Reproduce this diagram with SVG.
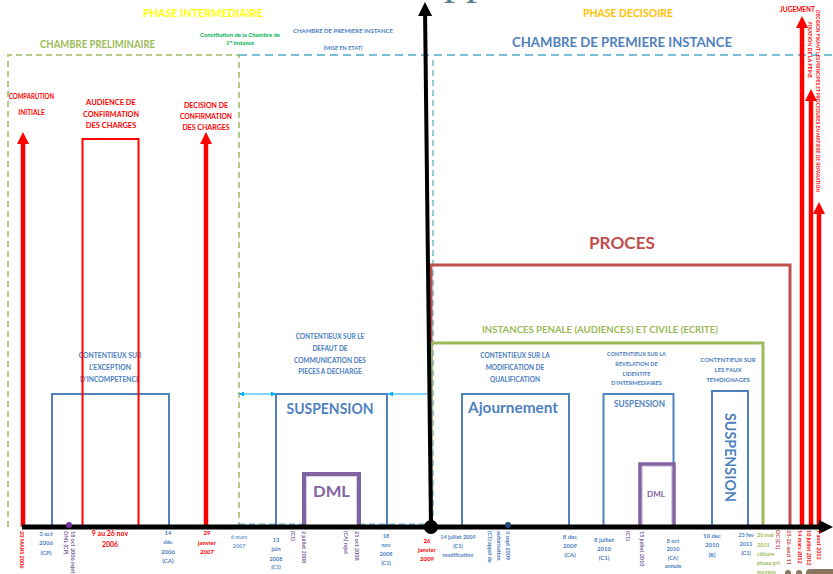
<svg xmlns="http://www.w3.org/2000/svg" width="833" height="574" viewBox="0 0 833 574">
<defs>
<style>
text{font-family:Lato,"Liberation Sans",sans-serif;font-weight:bold}
.c{text-anchor:middle}
.b{fill:#4a7ebf}
.r{fill:#ff0000}
.p{fill:#8064a2}
.g{fill:#9bbb59}
.br{fill:#c0504d}
.s5{font-size:5.5px}
.s6{font-size:6px}
.s65{font-size:6.5px}
.bbox{fill:none;stroke:#4f81bd;stroke-width:2}
.dml{fill:#fff;stroke:#8064a2;stroke-width:4}
.dmlin{fill:none;stroke:#d9cfe6;stroke-width:1}
.redarr{stroke:#ff0000;stroke-width:4.5;fill:none}
</style>
<marker id="rh" viewBox="0 0 12 12" markerUnits="userSpaceOnUse" markerWidth="12" markerHeight="12" refX="0" refY="6" orient="auto"><path d="M0,0 L12,6 L0,12 z" fill="#ff0000"/></marker>
<marker id="kh" viewBox="0 0 14 14" markerUnits="userSpaceOnUse" markerWidth="14" markerHeight="14" refX="0" refY="7" orient="auto"><path d="M0,0 L14,7 L0,14 z" fill="#000"/></marker>
<marker id="sh" viewBox="0 0 6 6" markerUnits="userSpaceOnUse" markerWidth="5" markerHeight="5" refX="6" refY="3" orient="auto-start-reverse"><path d="M0,0 L6,3 L0,6 z" fill="#00b0f0"/></marker>
</defs>
<rect width="833" height="574" fill="#fff"/>

<!-- fragment of large title at the top edge -->
<text x="444" y="-6" style="font-family:'Liberation Serif',serif;font-weight:normal;font-size:44px;fill:#5b7b8c">pp</text>

<g id="frames">
<path d="M8,527 V55 H239 V527" fill="none" stroke="#9bbb59" stroke-width="1.5" stroke-dasharray="6 4"/>
<line x1="239" y1="55" x2="833" y2="55" stroke="#4bacc6" stroke-width="1.5" stroke-dasharray="8 5"/>
<line x1="239" y1="524" x2="431" y2="524" stroke="#4bacc6" stroke-width="1.2" stroke-dasharray="6 4"/>
<line x1="433" y1="60" x2="433" y2="522" stroke="#4bacc6" stroke-width="1.2" stroke-dasharray="6 4"/>
<path d="M431,527 V265 H790 V527" fill="none" stroke="#c0504d" stroke-width="3"/>
<path d="M431,527 V343 H763 V527" fill="none" stroke="#9bbb59" stroke-width="3"/>
</g>

<g id="headers">
<text x="203" y="17" class="c" style="font-size:11.5px;fill:#ffff00" textLength="120" lengthAdjust="spacingAndGlyphs">PHASE INTERMEDIAIRE</text>
<text x="97.5" y="48" class="c g" style="font-size:10.5px" textLength="115" lengthAdjust="spacingAndGlyphs">CHAMBRE PRELIMINAIRE</text>
<text x="240" y="37" class="c s5" style="fill:#00b050" textLength="80" lengthAdjust="spacingAndGlyphs">Constitution de la Chambre de</text>
<text x="240" y="45" class="c s5" style="fill:#00b050">1<tspan dy="-2" style="font-size:3.5px">re</tspan><tspan dy="2"> instance</tspan></text>
<text x="343" y="33" class="c s5 b" textLength="100" lengthAdjust="spacingAndGlyphs">CHAMBRE DE PREMIERE INSTANCE</text>
<text x="343" y="50" class="c s5 b">(MISE EN ETAT)</text>
<text x="628" y="17" class="c" style="font-size:11.5px;fill:#ffc000" textLength="90" lengthAdjust="spacingAndGlyphs">PHASE DECISOIRE</text>
<text x="622" y="47" class="c b" style="font-size:14px;fill:#4f81bd" textLength="220" lengthAdjust="spacingAndGlyphs">CHAMBRE DE PREMIERE INSTANCE</text>
<text x="797.5" y="12" class="c r" style="font-size:7px" textLength="35" lengthAdjust="spacingAndGlyphs">JUGEMENT</text>
<text x="622" y="249" class="c br" style="font-size:17px" textLength="66" lengthAdjust="spacingAndGlyphs">PROCES</text>
<text x="600" y="333" class="c g" style="font-size:10px" textLength="236" lengthAdjust="spacingAndGlyphs">INSTANCES PENALE (AUDIENCES) ET CIVILE (ECRITE)</text>
</g>

<g id="comparution">
<text x="31.5" y="99" class="c r s65" textLength="45" lengthAdjust="spacingAndGlyphs">COMPARUTION</text>
<text x="31.5" y="115" class="c r s65">INITIALE</text>
</g>

<g id="exception">
<rect x="52" y="394" width="117" height="133" class="bbox"/>
<text x="110" y="358" class="c b" style="font-size:6.8px">CONTENTIEUX SUR</text>
<text x="110" y="370" class="c b" style="font-size:6.8px">L'EXCEPTION</text>
<text x="110" y="382" class="c b" style="font-size:6.8px">D'INCOMPETENCE</text>
</g>

<g id="audience">
<rect x="82.5" y="139" width="56" height="388" fill="none" stroke="#ff0000" stroke-width="2"/>
<text x="111" y="105" class="c r" style="font-size:7.5px">AUDIENCE DE</text>
<text x="111" y="117" class="c r" style="font-size:7.5px" textLength="56" lengthAdjust="spacingAndGlyphs">CONFIRMATION</text>
<text x="111" y="128" class="c r" style="font-size:7.5px">DES CHARGES</text>
</g>

<g id="decision">
<text x="206" y="108" class="c r" style="font-size:7px">DECISION DE</text>
<text x="206" y="119" class="c r" style="font-size:7px" textLength="52" lengthAdjust="spacingAndGlyphs">CONFIRMATION</text>
<text x="206" y="130" class="c r" style="font-size:7px">DES CHARGES</text>
</g>

<g id="suspension1">
<rect x="276" y="394" width="111" height="133" class="bbox"/>
<text x="330" y="339" class="c b s65">CONTENTIEUX SUR LE</text>
<text x="330" y="351" class="c b s65">DEFAUT DE</text>
<text x="330" y="363" class="c b s65">COMMUNICATION DES</text>
<text x="330" y="374" class="c b s65">PIECES A DECHARGE</text>
<text x="330" y="414" class="c b" style="font-size:15px;fill:#4f81bd" textLength="87" lengthAdjust="spacingAndGlyphs">SUSPENSION</text>
</g>

<g id="dml1">
<rect x="304" y="474" width="55" height="53" class="dml"/>
<rect x="306.5" y="476.5" width="50" height="50" class="dmlin"/>
<text x="331.5" y="497" class="c p" style="font-size:16px" textLength="37" lengthAdjust="spacingAndGlyphs">DML</text>
</g>

<g id="ajournement">
<rect x="462" y="394" width="107" height="133" class="bbox"/>
<text x="515" y="358" class="c b s65">CONTENTIEUX SUR LA</text>
<text x="515" y="370" class="c b s65">MODIFICATION DE</text>
<text x="515" y="382" class="c b s65">QUALIFICATION</text>
<text x="513" y="413" class="c" style="font-size:16px;fill:#4f81bd" textLength="90" lengthAdjust="spacingAndGlyphs">Ajournement</text>
</g>

<g id="suspension2">
<rect x="603.5" y="394" width="70" height="133" class="bbox"/>
<text x="636.5" y="356" class="c b s5">CONTENTIEUX SUR LA</text>
<text x="636.5" y="366" class="c b s5">REVELATION DE</text>
<text x="636.5" y="376" class="c b s5">L'IDENTITE</text>
<text x="636.5" y="385" class="c b s5">D'INTERMEDIAIRES</text>
<text x="639.5" y="407" class="c" style="font-size:9px;fill:#4f81bd" textLength="51" lengthAdjust="spacingAndGlyphs">SUSPENSION</text>
</g>

<g id="dml2">
<rect x="640" y="464" width="34" height="63" class="dml" style="stroke-width:3.5"/>
<rect x="642.5" y="466.5" width="29" height="60" class="dmlin"/>
<text x="656" y="497" class="c p" style="font-size:8px">DML</text>
</g>

<g id="suspension3">
<rect x="712" y="391" width="36" height="136" class="bbox"/>
<text x="728" y="362" class="c b s6">CONTENTIEUX SUR</text>
<text x="728" y="372" class="c b s6">LES FAUX</text>
<text x="728" y="382" class="c b s6">TEMOIGNAGES</text>
<text transform="translate(725,413) rotate(90)" x="0" y="0" style="font-size:15px;fill:#4f81bd" textLength="89" lengthAdjust="spacingAndGlyphs">SUSPENSION</text>
</g>

<g id="connectors">
<line x1="239" y1="394" x2="276" y2="394" stroke="#00b0f0" stroke-width="1" marker-start="url(#sh)" marker-end="url(#sh)"/>
<line x1="388" y1="394" x2="431" y2="394" stroke="#00b0f0" stroke-width="1" marker-start="url(#sh)"/>
<line x1="23" y1="527" x2="23" y2="144" class="redarr" marker-end="url(#rh)"/>
<line x1="206" y1="527" x2="206" y2="144" class="redarr" marker-end="url(#rh)"/>
<line x1="802" y1="527" x2="802" y2="28" class="redarr" marker-end="url(#rh)"/>
<line x1="811" y1="527" x2="811" y2="101" class="redarr" marker-end="url(#rh)"/>
<line x1="819" y1="527" x2="819" y2="214" class="redarr" marker-end="url(#rh)"/>
<line x1="22" y1="527" x2="819" y2="527" stroke="#000" stroke-width="5" marker-end="url(#kh)"/>
<line x1="431" y1="527" x2="425.1" y2="16" stroke="#000" stroke-width="4" marker-end="url(#kh)"/>
<circle cx="431" cy="527" r="7" fill="#000"/>
<circle cx="69" cy="525" r="3" fill="#7030a0"/>
<circle cx="508" cy="525" r="3" fill="#1f497d"/>
</g>

<g id="right-labels">
<text transform="translate(807.5,22) rotate(90)" class="r" style="font-size:5px" textLength="56" lengthAdjust="spacingAndGlyphs">FIXATION DE LA PEINE</text>
<text transform="translate(816,10) rotate(90)" class="r" style="font-size:5px" textLength="182" lengthAdjust="spacingAndGlyphs">DECISION FIXANT LES PRINCIPES ET PROCEDURES EN MATIERE DE REPARATION</text>
</g>

<g id="dates">
<text transform="translate(20,531) rotate(90)" class="r s5">20 MARS 2006</text>
<text x="46" y="536" class="c b s6">3 oct</text>
<text x="46" y="545" class="c b s6">2006</text>
<text x="46" y="555" class="c b s6">(CP)</text>
<text transform="translate(71,531) rotate(90)" class="p s5">18 oct 2006 rejet</text>
<text transform="translate(64,531) rotate(90)" class="p s5">DML (CP)</text>
<text x="110" y="536" class="c r" style="font-size:7px">9 au 26 nov</text>
<text x="110" y="547" class="c r" style="font-size:7px">2006</text>
<text x="168" y="535" class="c b s6">14</text>
<text x="168" y="544" class="c b s6">déc</text>
<text x="168" y="554" class="c b s6">2006</text>
<text x="168" y="563" class="c b s6">(CA)</text>
<text x="207" y="535" class="c r s6">29</text>
<text x="207" y="545" class="c r s6">janvier</text>
<text x="207" y="554" class="c r s6">2007</text>
<text x="239" y="539" class="c s5" style="fill:#6f9bd1">6 mars</text>
<text x="239" y="548" class="c s5" style="fill:#6f9bd1">2007</text>
<text x="276" y="542" class="c b s5">13</text>
<text x="276" y="551" class="c b s5">juin</text>
<text x="276" y="561" class="c b s5">2008</text>
<text x="276" y="569" class="c b s5">(C1)</text>
<text transform="translate(302,531) rotate(90)" class="p s5">2 juillet 2008</text>
<text transform="translate(291,531) rotate(90)" class="p s5">(C1)</text>
<text transform="translate(355,531) rotate(90)" class="p s5">21 oct 2008</text>
<text transform="translate(344,531) rotate(90)" class="p s5">(CA) rejet</text>
<text x="386" y="538" class="c b s5">18</text>
<text x="386" y="547" class="c b s5">nov</text>
<text x="386" y="556" class="c b s5">2008</text>
<text x="386" y="565" class="c b s5">(C1)</text>
<text x="427" y="543" class="c r s6">26</text>
<text x="427" y="552" class="c r s6">janvier</text>
<text x="427" y="561" class="c r s6">2009</text>
<text x="458" y="539" class="c b s5">14 juillet 2009</text>
<text x="458" y="548" class="c b s5">(C1)</text>
<text x="458" y="557" class="c b s5">modification</text>
<text transform="translate(506,531) rotate(90)" class="b s5">3 sept 2009</text>
<text transform="translate(497,531) rotate(90)" class="b s5">autorisation</text>
<text transform="translate(488,531) rotate(90)" class="b s5">(C1) appel de</text>
<text x="570" y="539" class="c b s6">8 dec</text>
<text x="570" y="548" class="c b s6">2009</text>
<text x="570" y="557" class="c b s6">(CA)</text>
<text x="604" y="542" class="c b s6">8 juillet</text>
<text x="604" y="551" class="c b s6">2010</text>
<text x="604" y="560" class="c b s6">(C1)</text>
<text transform="translate(640,531) rotate(90)" class="p s5">15 juillet 2010</text>
<text transform="translate(626,531) rotate(90)" class="p s5">(C1)</text>
<text x="673" y="543" class="c b s5">8 oct</text>
<text x="673" y="551" class="c b s5">2010</text>
<text x="673" y="560" class="c b s5">(CA)</text>
<text x="673" y="568" class="c b s5">annule</text>
<text x="712" y="538" class="c b s6">10 dec</text>
<text x="712" y="547" class="c b s6">2010</text>
<text x="712" y="557" class="c b s6">(R)</text>
<text x="746" y="537" class="c b s5">23 fev</text>
<text x="746" y="546" class="c b s5">2011</text>
<text x="746" y="555" class="c b s5">(C1)</text>
<text x="757" y="537" class="g s5">20 mai</text>
<text x="757" y="547" class="g s5">2011</text>
<text x="757" y="556" class="g s5">clôture</text>
<text x="757" y="565" class="g s5">phase prt</text>
<text x="757" y="574" class="g s5">moyens</text>
<text transform="translate(776,530) rotate(90)" class="br s5">DC (C1)</text>
<text transform="translate(787,530) rotate(90)" class="br s5">25-26 aout 11</text>
<text transform="translate(798,530) rotate(90)" class="r s5">14 mars 2012</text>
<text transform="translate(807,530) rotate(90)" class="r s5">10 juillet 2012</text>
<text transform="translate(817,530) rotate(90)" class="r s5">7 aout 2012</text>
</g>

<g id="bottom-marks">
<circle cx="788" cy="573" r="3" fill="#8b7760"/>
<circle cx="799" cy="573" r="3" fill="#8b7760"/>
<rect x="806" y="569" width="30" height="8" rx="4" fill="#8b7760"/>
</g>
</svg>
